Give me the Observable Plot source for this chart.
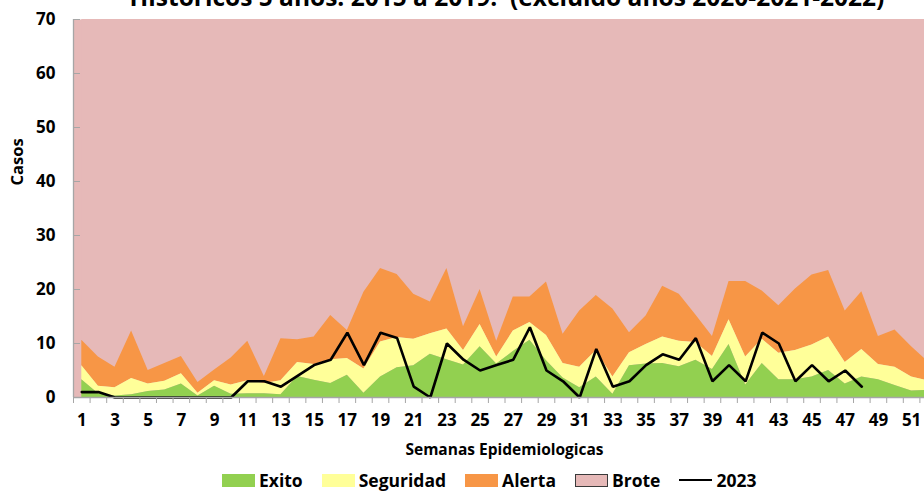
<!DOCTYPE html>
<html>
<head>
<meta charset="utf-8">
<script src="https://cdn.jsdelivr.net/npm/d3@7"></script>
<script src="https://cdn.jsdelivr.net/npm/@observablehq/plot@0.6"></script>
<style>
html,body{margin:0;padding:0;width:924px;height:491px;overflow:hidden;background:#fff;font-family:"Open Sans",sans-serif;}
#wrap{position:relative;width:924px;height:491px;overflow:hidden;}
#chart{position:absolute;left:0;top:0;}
#title{position:absolute;left:0;width:1014px;top:-14px;text-align:center;font-size:24.5px;font-weight:700;line-height:22px;white-space:pre;color:#000;z-index:2;}
#legend{position:absolute;left:222px;top:470px;display:flex;align-items:center;gap:19px;font-size:17.5px;font-weight:700;color:#000;line-height:20px;}
.item{display:flex;align-items:center;gap:4px;}
.sw{width:33px;height:13px;box-sizing:border-box;}
.ln{width:33px;height:2.5px;background:#000;}
</style>
</head>
<body>
<div id="wrap">
  <div id="chart"></div>
  <div id="title"></div>
  <div id="legend"></div>
</div>
<script>
// ---- data ----
const titleText = "Históricos 5 años: 2015 a 2019.  (excluido años 2020-2021-2022)";
const xLabel = "Semanas Epidemiologicas";
const yLabel = "Casos";
const semanas = [1,2,3,4,5,6,7,8,9,10,11,12,13,14,15,16,17,18,19,20,21,22,23,24,25,26,27,28,29,30,31,32,33,34,35,36,37,38,39,40,41,42,43,44,45,46,47,48,49,50,51,52];
const xTickLabels = [1,3,5,7,9,11,13,15,17,19,21,23,25,27,29,31,33,35,37,39,41,43,45,47,49,51];
const yTicks = [0,10,20,30,40,50,60,70];
const yMax = 70;
// curve tops of the endemic channel
const exito = [3.3,0.7,0.3,0.5,1.1,1.4,2.5,0.3,2.1,0.6,0.7,0.7,0.5,3.9,3.2,2.6,4.1,0.8,3.8,5.5,5.9,8.0,7.0,6.0,9.4,6.2,8.5,10.6,6.8,3.6,1.8,3.8,0.6,5.9,6.2,6.3,5.7,6.9,5.2,9.8,2.3,6.3,3.3,3.3,3.8,5.0,2.5,3.8,3.3,2.2,1.2,1.3];
const seguridad = [5.9,2.1,1.8,3.5,2.5,3.0,4.4,0.8,3.1,2.3,3.1,2.6,3.1,6.5,6.1,7.0,7.2,5.3,10.3,11.1,10.8,11.8,12.7,8.7,13.5,7.5,12.3,13.9,11.5,6.3,5.6,8.7,3.8,8.3,9.8,11.2,10.4,10.2,7.6,14.4,7.5,10.8,8.2,8.7,9.7,11.2,6.5,8.9,6.1,5.6,3.8,3.1];
const alerta = [10.6,7.5,5.6,12.3,5.0,6.3,7.6,2.8,5.1,7.3,10.4,3.9,10.9,10.7,11.2,15.2,12.4,19.5,23.9,22.8,19.1,17.7,23.9,13.1,20.0,10.4,18.6,18.6,21.4,11.7,16.0,18.9,16.4,12.0,15.1,20.6,19.1,15.3,11.3,21.5,21.5,19.7,17.0,20.1,22.7,23.5,16.0,19.6,11.3,12.5,9.4,6.6];
const casos2023 = [1,1,0,0,0,0,0,0,0,0,3,3,2,4,6,7,12,6,12,11,2,0,10,7,5,6,7,13,5,3,0,9,2,3,6,8,7,11,3,6,3,12,10,3,6,3,5,2];
const seriesNames = ["Exito","Seguridad","Alerta","Brote","2023"];
const seriesColors = ["#92D050","#FFFF99","#F79646","#E6B9B8","#000000"];
const axisGray = "#A6A6A6";

// ---- build ----
const data = semanas.map((w,i)=>({semana:w, exito:exito[i], seguridad:seguridad[i], alerta:alerta[i], tope:yMax}));
const linea = casos2023.map((v,i)=>({semana:semanas[i], casos:v}));
const bounds = semanas.map(w=>w-0.5).concat([semanas[semanas.length-1]+0.5]);

const plot = Plot.plot({
  width:924, height:466,
  marginTop:19, marginBottom:69, marginLeft:73, marginRight:0,
  style:{fontFamily:"'Open Sans', sans-serif", fontSize:"17px", fontWeight:700, color:"#000", background:"white"},
  x:{type:"linear", domain:[bounds[0], bounds[bounds.length-1]], range:[73,936]},
  y:{domain:[0,yMax]},
  marks:[
    Plot.frame({fill:seriesColors[3], stroke:null}),
    Plot.areaY(data,{x:"semana", y1:"alerta", y2:"tope", fill:seriesColors[3]}),
    Plot.areaY(data,{x:"semana", y1:"seguridad", y2:"alerta", fill:seriesColors[2]}),
    Plot.areaY(data,{x:"semana", y1:"exito", y2:"seguridad", fill:seriesColors[1]}),
    Plot.areaY(data,{x:"semana", y1:0, y2:"exito", fill:seriesColors[0]}),
    Plot.lineY(linea,{x:"semana", y:"casos", stroke:"#000", strokeWidth:2.6, strokeLinejoin:"miter"}),
    Plot.ruleX([bounds[0]],{y1:0, y2:yMax, stroke:axisGray, strokeWidth:1.3}),
    Plot.ruleY([0],{stroke:axisGray, strokeWidth:1.3}),
    Plot.axisY({ticks:yTicks, tickSize:7, dx:7, tickFormat:()=>"", stroke:axisGray, label:null}),
    Plot.axisY({ticks:yTicks, tickSize:0, tickPadding:18, label:null, fill:"#000", fontWeight:700}),
    Plot.axisX({ticks:bounds, tickSize:6, tickFormat:()=>"", stroke:axisGray, label:null}),
    Plot.axisX({ticks:xTickLabels, tickSize:0, tickPadding:16, label:null, fill:"#000", fontWeight:700}),
    Plot.text([xLabel],{text:d=>d, frameAnchor:"bottom", dx:5.5, dy:53, lineAnchor:"middle", fontSize:15.5, fontWeight:700, fill:"#000"}),
    Plot.text([yLabel],{text:d=>d, frameAnchor:"left", dx:-56, dy:-23, rotate:-90, fontSize:16.5, fontWeight:700, fill:"#000"})
  ]
});
document.getElementById("chart").appendChild(plot);
document.getElementById("title").textContent = titleText;

const legend = document.getElementById("legend");
seriesNames.forEach((name,i)=>{
  const item = document.createElement("div");
  item.className = "item";
  const sw = document.createElement("div");
  if (name === "2023") { sw.className = "ln"; }
  else {
    sw.className = "sw";
    sw.style.background = seriesColors[i];
    if (name === "Brote") sw.style.border = "1.5px solid #3a3a3a";
  }
  const t = document.createElement("span");
  t.textContent = name;
  item.appendChild(sw); item.appendChild(t);
  legend.appendChild(item);
});
</script>
</body>
</html>
